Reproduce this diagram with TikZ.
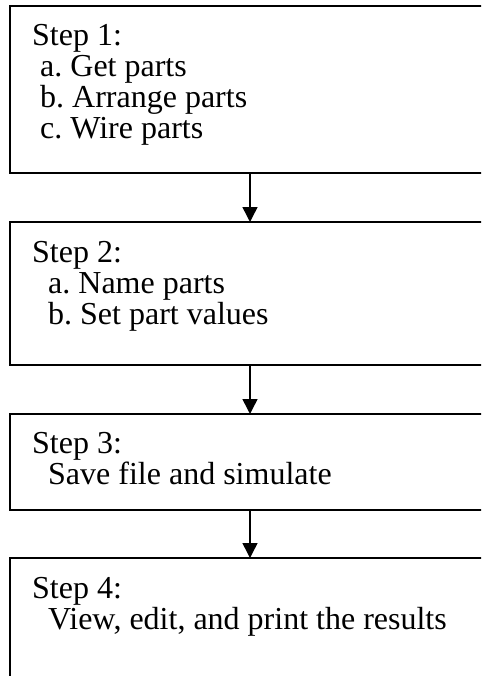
\documentclass[tikz,border=0pt]{standalone}
\usepackage{fontspec}
\setmainfont{Liberation Serif}
\usetikzlibrary{arrows.meta}
\frenchspacing
\begin{document}
\begin{tikzpicture}[x=1pt,y=1pt,
  stepbox/.style={draw, line width=2pt, rectangle, minimum width=500pt, anchor=north west, inner sep=0pt, outer sep=0pt},
  steptext/.style={anchor=base west, inner sep=0pt, align=left, font=\fontsize{32}{31}\selectfont},
  flow/.style={line width=1.5pt, -{Triangle[length=15pt,width=15pt]}}]
\useasboundingbox (0,0) rectangle (481,-676);
\clip (0,0) rectangle (481,-676);
\node[stepbox, minimum height=167pt] (b1) at (10,-6) {};
\node[stepbox, minimum height=143pt] (b2) at (10,-222) {};
\node[stepbox, minimum height=96pt] (b3) at (10,-414) {};
\node[stepbox, minimum height=150pt] (b4) at (10,-558) {};
\node[steptext] (t1) at (32,-139) {Step 1:\\~a. Get parts\\~b. Arrange parts\\~c. Wire parts};
\node[steptext] (t2) at (32,-324) {Step 2:\\~~a. Name parts\\~~b. Set part values};
\node[steptext] (t3) at (32,-484) {Step 3:\\~~Save file and simulate};
\node[steptext] (t4) at (32,-629) {Step 4:\\~~View, edit, and print the results};
\coordinate (ax) at (250,0);
\draw[flow] (b1.south -| ax) -- (b2.north -| ax);
\draw[flow] (b2.south -| ax) -- (b3.north -| ax);
\draw[flow] (b3.south -| ax) -- (b4.north -| ax);
\end{tikzpicture}
\end{document}
